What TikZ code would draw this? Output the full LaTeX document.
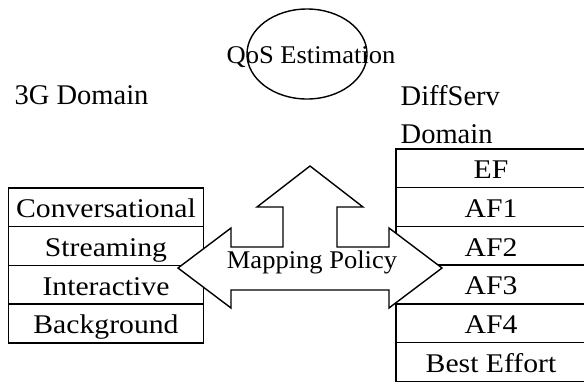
\documentclass[tikz,border=0pt]{standalone}
\usepackage{fontspec}
\setmainfont{Liberation Serif}
\newfontfamily\cellfont[FakeStretch=1.1]{Liberation Serif}
\newfontfamily\midfont[FakeStretch=1.04]{Liberation Serif}
\usetikzlibrary{shapes.geometric}
\begin{document}
\begin{tikzpicture}[x=1pt,y=-1pt,
  line width=1.4pt,
  cell/.style={draw, inner sep=0pt, outer sep=0pt, minimum height=38.7pt, text height=20.7pt, text depth=0pt,
    font=\cellfont\fontsize{27}{30}\selectfont},
  lcell/.style={cell, minimum width=195pt},
  rcell/.style={cell, minimum width=190pt},
  big/.style={inner sep=0pt, font=\fontsize{28.5}{32}\selectfont},
  mid/.style={inner sep=0pt, font=\midfont\fontsize{25.5}{30}\selectfont}]
\useasboundingbox (0,0) rectangle (584,381);
\clip (0,0) rectangle (584,381);
% ellipse
\node[draw, ellipse, minimum width=120pt, minimum height=90pt, inner sep=0pt] (qos) at (307,54) {};
\node[mid, anchor=base] (qost) at (311,63) {QoS Estimation};
% domain labels
\node[big, anchor=base west] (g3) at (14,104) {3G Domain};
\node[big, anchor=base west] (ds1) at (400,105) {DiffServ};
\node[big, anchor=base west] (ds2) at (400,143) {Domain};
% left table
\node[lcell] (c1) at (106,207.35) {Conversational};
\node[lcell, anchor=north] (c2) at (c1.south) {Streaming};
\node[lcell, anchor=north] (c3) at (c2.south) {Interactive};
\node[lcell, anchor=north] (c4) at (c3.south) {Background};
% right table
\node[rcell] (d1) at (491,168.35) {EF};
\node[rcell, anchor=north] (d2) at (d1.south) {AF1};
\node[rcell, anchor=north] (d3) at (d2.south) {AF2};
\node[rcell, anchor=north] (d4) at (d3.south) {AF3};
\node[rcell, anchor=north] (d5) at (d4.south) {AF4};
\node[rcell, anchor=north] (d6) at (d5.south) {Best Effort};
% arrow shape
\draw[line join=miter, fill=white] (178,268) -- (231,228) -- (231,247) -- (283,247) -- (283,207)
  -- (257,207) -- (310,166) -- (363,207) -- (337,207) -- (337,247) -- (389,247)
  -- (389,228) -- (442,268) -- (389,308) -- (389,290) -- (231,290) -- (231,308) -- cycle;
\node[mid, anchor=base] (map) at (312,268) {Mapping Policy};
\end{tikzpicture}
\end{document}
